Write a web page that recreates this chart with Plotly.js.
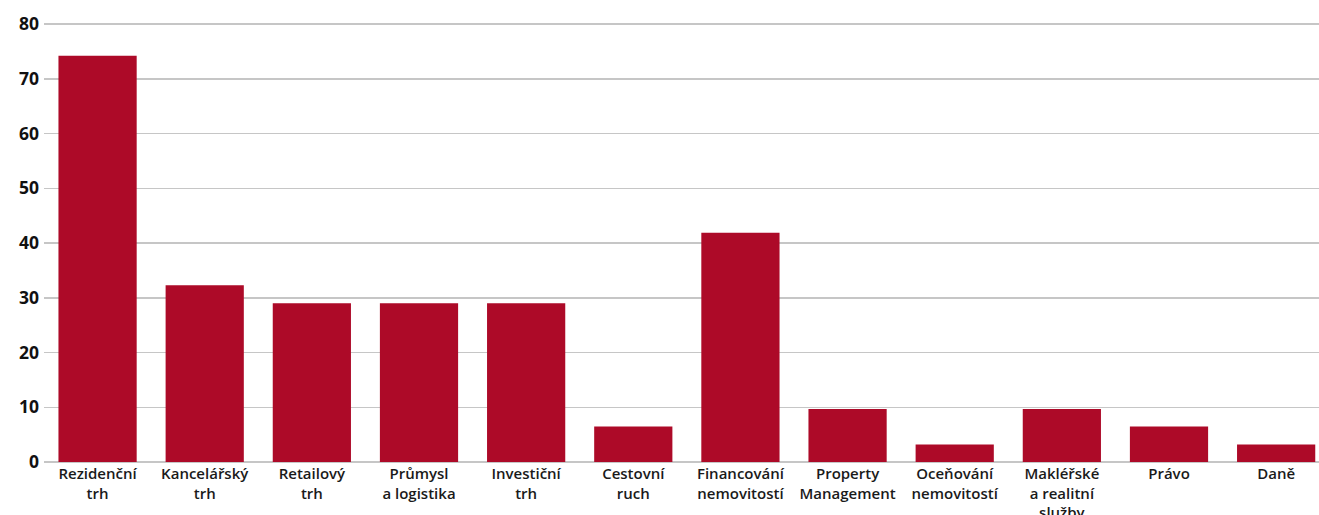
<!DOCTYPE html>
<html>
<head>
<meta charset="utf-8">
<script src="https://cdn.plot.ly/plotly-3.0.1.min.js"></script>
<style>html,body{margin:0;padding:0;background:#fff;}#chart{width:1319px;height:515px;}</style>
</head>
<body>
<div id="chart"></div>
<script>
const categories = [
  "Rezidenční<br>trh",
  "Kancelářský<br>trh",
  "Retailový<br>trh",
  "Průmysl<br>a logistika",
  "Investiční<br>trh",
  "Cestovní<br>ruch",
  "Financování<br>nemovitostí",
  "Property<br>Management",
  "Oceňování<br>nemovitostí",
  "Makléřské<br>a realitní<br>služby",
  "Právo",
  "Daně"
];
const values = [74.2, 32.3, 29.0, 29.0, 29.0, 6.5, 41.9, 9.7, 3.2, 9.7, 6.5, 3.2];
const yTicks = [0, 10, 20, 30, 40, 50, 60, 70, 80];

const trace = {
  type: 'bar',
  x: categories.map((c, i) => i),
  y: values,
  marker: {color: '#AD0A28'},
  hoverinfo: 'skip'
};

const layout = {
  width: 1319,
  height: 515,
  margin: {l: 44, r: 0, t: 22.5, b: 52.5},
  paper_bgcolor: '#ffffff',
  plot_bgcolor: '#ffffff',
  bargap: 0.27,
  showlegend: false,
  font: {family: '"Open Sans", sans-serif', color: '#1a1a1a'},
  xaxis: {
    range: [-0.5, 11.4],
    tickmode: 'array',
    tickvals: categories.map((c, i) => i),
    ticktext: categories,
    showgrid: false,
    zeroline: false,
    showline: false,
    ticks: '',
    ticklabelstandoff: 1,
    tickfont: {family: '"Open Sans", sans-serif', size: 15, color: '#1a1a1a', weight: 600},
    tickangle: 0,
    fixedrange: true
  },
  yaxis: {
    range: [0, 80.2],
    tickmode: 'array',
    tickvals: yTicks,
    ticktext: yTicks.map(String),
    showgrid: true,
    gridcolor: '#c6c6c6',
    gridwidth: 1.5,
    zeroline: true,
    zerolinecolor: '#c6c6c6',
    zerolinewidth: 1.5,
    showline: false,
    ticks: '',
    ticklabelstandoff: 4,
    tickfont: {family: '"Open Sans", sans-serif', size: 17.5, color: '#111111', weight: 700},
    fixedrange: true
  }
};

Plotly.newPlot('chart', [trace], layout, {displayModeBar: false, staticPlot: true});
</script>
</body>
</html>
